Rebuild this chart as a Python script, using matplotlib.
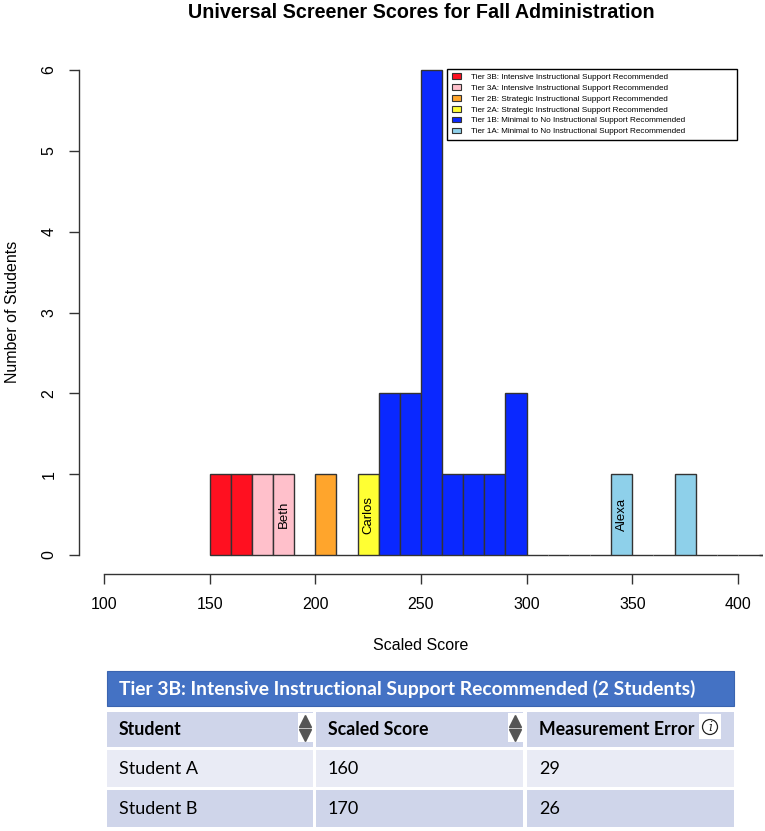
import matplotlib
matplotlib.use("Agg")
import matplotlib.pyplot as plt
from matplotlib.patches import Rectangle, Patch, Circle

# ---------------- data ----------------
bin_starts = [150, 160, 170, 180, 190, 200, 210, 220, 230, 240, 250, 260, 270,
              280, 290, 300, 310, 320, 330, 340, 350, 360, 370, 380, 390, 400, 410]
counts = [1, 1, 1, 1, 0, 1, 0, 1, 2, 2, 6, 1, 1, 1, 2, 0, 0, 0, 0, 1, 0, 0, 1, 0, 0, 0, 0]
bin_tier = ["3B", "3B", "3A", "3A", "3A", "2B", "2B", "2A", "1B", "1B", "1B", "1B", "1B",
            "1B", "1B", "1B", "1A", "1A", "1A", "1A", "1A", "1A", "1A", "1A", "1A", "1A", "1A"]
bin_width = 10

tiers = ["3B", "3A", "2B", "2A", "1B", "1A"]
tier_colors = {"3B": "#FF1020", "3A": "#FFC0CB", "2B": "#FFA52C", "2A": "#FFFF33",
               "1B": "#0A28FF", "1A": "#8ED0EA"}
tier_labels = ["Tier 3B: Intensive Instructional Support Recommended",
               "Tier 3A: Intensive Instructional Support Recommended",
               "Tier 2B: Strategic Instructional Support Recommended",
               "Tier 2A: Strategic Instructional Support Recommended",
               "Tier 1B: Minimal to No Instructional Support Recommended",
               "Tier 1A: Minimal to No Instructional Support Recommended"]

student_names = ["Beth", "Carlos", "Alexa"]
student_bins = [185, 225, 345]

x_ticks = [100, 150, 200, 250, 300, 350, 400]
y_ticks = [0, 1, 2, 3, 4, 5, 6]

title = "Universal Screener Scores for Fall Administration"
xlabel = "Scaled Score"
ylabel = "Number of Students"

table_title = "Tier 3B: Intensive Instructional Support Recommended (2 Students)"
table_columns = ["Student", "Scaled Score", "Measurement Error"]
table_students = ["Student A", "Student B"]
table_scores = ["160", "170"]
table_errors = ["29", "26"]

# ---------------- figure ----------------
W, H = 765, 831
fig = plt.figure(figsize=(W / 100, H / 100), dpi=100)
plt.rcParams["font.family"] = ["Liberation Sans", "DejaVu Sans"]

# plot region in pixels
px_l, px_r, px_t, px_b = 78.6, 763.3, 50.6, 574.4
ax = fig.add_axes([px_l / W, 1 - px_b / H, (px_r - px_l) / W, (px_b - px_t) / H])
ax.set_xlim(88, 412)
ax.set_ylim(-0.24, 6.24)

def ax_frac(xp, yp):
    return ((xp - px_l) / (px_r - px_l), (px_b - yp) / (px_b - px_t))

for s, c, t in zip(bin_starts, counts, bin_tier):
    ax.bar(s, c, width=bin_width, align="edge",
           color=tier_colors[t] if c > 0 else "none",
           edgecolor="#333333", linewidth=1.0, zorder=2)

for name, xb in zip(student_names, student_bins):
    ax.text(xb, 0.5, name, rotation=90, ha="center", va="center",
            fontsize=9.5, color="black", zorder=3)

for sp in ["top", "right"]:
    ax.spines[sp].set_visible(False)
ax.spines["left"].set_bounds(0, 6)
ax.spines["bottom"].set_bounds(100, 400)
for sp in ["left", "bottom"]:
    ax.spines[sp].set_color("#333333")
    ax.spines[sp].set_linewidth(1.0)

ax.set_xticks(x_ticks)
ax.set_yticks(y_ticks)
ax.set_xticklabels([str(v) for v in x_ticks])
ax.set_yticklabels([str(v) for v in y_ticks], rotation=90, va="center")
ax.tick_params(axis="both", length=7, width=1.0, color="#333333",
               labelsize=11.5, pad=9)

fig.text((px_l + px_r) / 2 / W, 1 - 12 / H, title, ha="center", va="center",
         fontsize=14.2, fontweight="bold")
fig.text((px_l + px_r) / 2 / W, 1 - 645 / H, xlabel, ha="center", va="center",
         fontsize=11.5)
fig.text(13 / W, 1 - 312 / H, ylabel, ha="center", va="center",
         fontsize=11.5, rotation=90)

# legend (R-style box with wide right padding)
x0f, y0f = ax_frac(447, 140)
x1f, y1f = ax_frac(737, 69)
ax.add_patch(Rectangle((x0f, y0f), x1f - x0f, y1f - y0f, transform=ax.transAxes,
                       facecolor="white", edgecolor="black", linewidth=1.0, zorder=4))
handles = [Patch(facecolor=tier_colors[t], edgecolor="#333333", linewidth=0.8) for t in tiers]
leg = ax.legend(handles, tier_labels, loc="upper left",
                bbox_to_anchor=ax_frac(449, 70),
                borderaxespad=0, fontsize=5.9, handlelength=1.1, handleheight=0.7,
                handletextpad=1.2, labelspacing=0.38, borderpad=0.4,
                frameon=False)
leg.set_zorder(5)

# ---------------- table (overlay in pixel coordinates) ----------------
tx = fig.add_axes([0, 0, 1, 1], zorder=-1)
tx.set_xlim(0, W)
tx.set_ylim(H, 0)
tx.axis("off")

tfont = ["Lato", "DejaVu Sans"]
hdr_blue = "#4472C4"
row_dark = "#CFD5EA"
row_light = "#E9EBF5"

tx.add_patch(Rectangle((107, 671), 627, 35, facecolor=hdr_blue, edgecolor="#3A64B0", linewidth=0.8))
tx.text(119, 689, table_title, ha="left", va="center", color="white",
        fontsize=13.9, fontweight="bold", family=tfont)

col_x = [(107, 313), (316, 523), (527, 734)]
row_y = [(712, 747), (750, 787), (790, 827)]
row_colors = [row_dark, row_light, row_dark]

for r, (y0, y1) in enumerate(row_y):
    for (x0, x1) in col_x:
        tx.add_patch(Rectangle((x0, y0), x1 - x0, y1 - y0, facecolor=row_colors[r],
                               edgecolor="none"))

for i, name in enumerate(table_columns):
    tx.text(col_x[i][0] + 12, (row_y[0][0] + row_y[0][1]) / 2, name, ha="left",
            va="center", fontsize=12.8, fontweight="bold", family=tfont, color="black")

body = [table_students, table_scores, table_errors]
for r in range(len(table_students)):
    yc = (row_y[r + 1][0] + row_y[r + 1][1]) / 2
    for c in range(3):
        tx.text(col_x[c][0] + 12, yc, body[c][r], ha="left", va="center",
                fontsize=13, family=tfont, color="black")

# sort arrows
for xa in [305.5, 515.5]:
    tx.add_patch(Rectangle((xa - 7.5, 713), 15, 29, facecolor="white", edgecolor="none"))
    tx.plot([xa], [721], marker="^", markersize=9, color="#555555", linestyle="none")
    tx.plot([xa], [735], marker="v", markersize=9, color="#555555", linestyle="none")

# info icon
tx.add_patch(Rectangle((699, 714), 22, 25, facecolor="white", edgecolor="none"))
tx.add_patch(Circle((710, 727), 7.5, facecolor="white", edgecolor="#222222", linewidth=0.9))
tx.text(710, 727.5, "i", ha="center", va="center", fontsize=9, style="italic",
        family=["DejaVu Serif"], color="#222222")

fig.savefig("out.png", dpi=100)
